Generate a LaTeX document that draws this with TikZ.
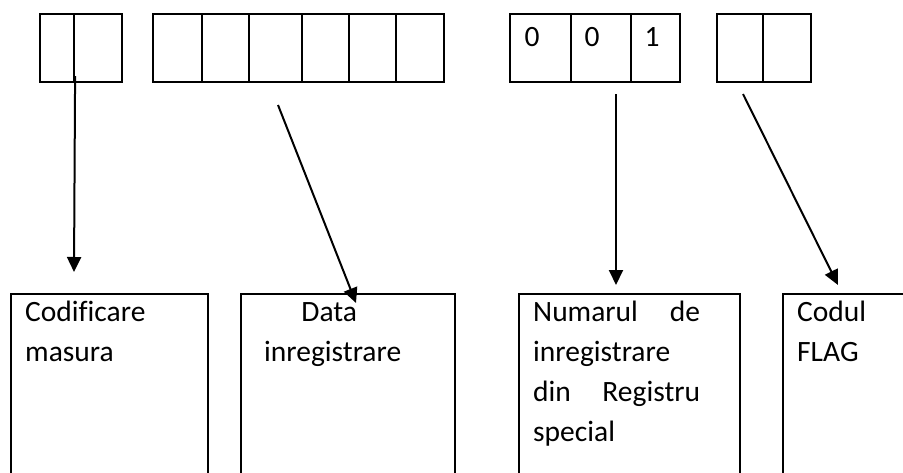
\documentclass[tikz,border=0pt]{standalone}
\usepackage{fontspec}
\setmainfont{Carlito}[Ligatures=NoCommon]
\usetikzlibrary{arrows.meta, positioning}

\begin{document}
\begin{tikzpicture}[
  x=1pt, y=-1pt,
  cell/.style={draw, line width=2.2pt, minimum height=68pt, inner sep=0pt},
  outbox/.style={draw, line width=2.2pt, minimum height=200pt, anchor=north west, inner sep=0pt},
  boxtext/.style={anchor=north west, inner sep=0pt, font=\fontsize{29.5}{40}\selectfont},
  digit/.style={anchor=base, inner sep=0pt, font=\fontsize{29.5}{40}\selectfont},
  ptr/.style={line width=2pt, -{Triangle[length=15pt, width=14pt]}}
]
  \useasboundingbox (0,0) rectangle (903,472);
  \clip (0,0) rectangle (903,472);

  % record fields
  \foreach \l/\r/\n in {40/74/c1, 74/122/c2, 153/202/c3, 202/249/c4, 249/302/c5, 302/349/c6, 349/396/c7, 396/444/c8, 510/571/c9, 571/631/c10, 631/680/c11, 717/763/c12, 763/811/c13}
    \node[cell, minimum width=\r pt-\l pt] (\n) at ({(\l+\r)/2},48) {};
  \node[digit] (d1) at (532,46) {0};
  \node[digit] (d2) at (592,46) {0};
  \node[digit] (d3) at (652,46) {1};

  % meaning of the fields
  \node[outbox, minimum width=197pt] (m1) at (10,293) {};
  \node[outbox, minimum width=214pt] (m2) at (240,293) {};
  \node[outbox, minimum width=221pt] (m3) at (518,293) {};
  \node[outbox, minimum width=200pt] (m4) at (782,293) {};
  \node[boxtext, text width=170pt, align=left] (t1) at ([xshift=15pt]m1.north west) {\strut Codificare\\masura};
  \node[boxtext, text width=130pt, align=center] (t2) at ([xshift=24pt]m2.north west) {\strut Data\\inregistrare};
  \node[boxtext, text width=167pt, align=left] (t3) at ([xshift=15pt]m3.north west) {\strut Numarul\hfill de\\inregistrare\\din\hfill Registru\\special};
  \node[boxtext, text width=100pt, align=left] (t4) at ([xshift=15pt]m4.north west) {\strut Codul\\FLAG};

  \coordinate (s1) at ([yshift=7pt]c1.south east);
  \coordinate (e1) at (74,272);
  \coordinate (s2) at (278,105);
  \coordinate (e2) at (356,303);
  \coordinate (s3) at (616,94);
  \coordinate (e3) at (616,285);
  \coordinate (s4) at (743,94);
  \coordinate (e4) at (838,285);
  \draw[ptr] (s1) -- (e1);
  \draw[ptr] (s2) -- (e2);
  \draw[ptr] (s3) -- (e3);
  \draw[ptr] (s4) -- (e4);
\end{tikzpicture}
\end{document}
